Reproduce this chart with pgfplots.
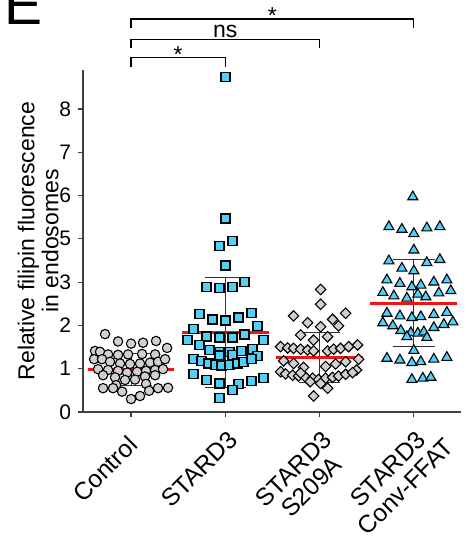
\documentclass[border=0pt]{standalone}
\usepackage{pgfplots}
\pgfplotsset{compat=1.18}
\usepackage{fontspec}
\setmainfont{Liberation Sans}
\definecolor{cy}{RGB}{80,208,248}
\definecolor{gr}{RGB}{208,208,208}
\definecolor{rd}{RGB}{240,20,20}
\newcommand{\twol}[2]{\setlength{\tabcolsep}{0pt}\begin{tabular}[t]{c}#1\\#2\end{tabular}}
\begin{document}
\begin{tikzpicture}
\path[use as bounding box] (-41.5pt,-65pt) rectangle (194pt,206pt);
\begin{axis}[
  name=ax, at={(0,0)}, anchor=south west,
  scale only axis, width=189pt, height=171pt,
  xmin=-0.51, xmax=3.5, ymin=0, ymax=7.9,
  axis x line*=bottom, axis y line*=left,
  axis line style={line width=0.6pt, black!75},
  xtick={0,1,2,3},
  xticklabels={Control, STARD3, {\twol{STARD3}{S209A}}, {\twol{STARD3}{Conv-FFAT}}},
  ytick={0,1,2,3,4,5,6,7}, yticklabels={0,1,2,3,5,6,7,8},
  tick align=outside, major tick length=2.5pt,
  tick style={line width=0.6pt, black!75},
  /pgf/number format/assume math mode=true,
  yticklabel style={font=\fontsize{10.5}{12}\selectfont},
  xticklabel style={font=\fontsize{12.3}{12.6}\selectfont, anchor=base, xshift=-10pt, yshift=-29pt, rotate=45},
  ylabel={Relative filipin fluorescence\\in endosomes},
  ylabel style={align=center, font=\fontsize{11.5}{12}\selectfont},
  ylabel shift=-6.5pt,
  clip=false,
]
% Control
\addplot[only marks, mark=*, mark size=2.35pt, mark options={fill=gr, draw=black, line width=0.55pt}] coordinates {
(-0.276,1.80) (-0.138,1.63) (0,1.58) (0.127,1.60) (0.265,1.64) (0.382,1.48)
(-0.382,1.41) (-0.329,1.39) (-0.244,1.33) (-0.138,1.32) (-0.032,1.33) (0.117,1.34) (0.255,1.33)
(-0.392,1.22) (-0.308,1.22) (-0.223,1.16) (-0.117,1.12) (-0.011,1.11) (0.095,1.12) (0.201,1.14) (0.286,1.16) (0.361,1.22)
(-0.350,0.99) (-0.244,0.97) (-0.138,0.95) (-0.042,0.91) (0.064,0.93) (0.159,0.95) (0.255,0.97) (0.339,0.99)
(-0.297,0.85) (-0.170,0.80) (-0.064,0.74) (0.042,0.75) (0.148,0.82) (0.255,0.85)
(-0.159,0.62) (0.159,0.65)
(-0.297,0.55) (-0.191,0.55) (-0.095,0.47) (0,0.30) (0.095,0.37) (0.191,0.49) (0.286,0.55) (0.392,0.56)
};
% STARD3
\addplot[only marks, mark=square*, mark size=2.25pt, mark options={fill=cy, draw=black, line width=0.75pt}] coordinates {
(1,7.74) (1,4.47) (0.936,3.84) (1.074,3.95) (1,3.39)
(0.799,2.89) (0.936,2.86) (1.074,2.89) (1.201,3.00)
(0.724,2.26) (0.862,2.14) (1,2.11) (1.138,2.18) (1.276,2.29)
(0.661,1.92) (1.339,1.99)
(0.597,1.66) (0.799,1.74) (0.936,1.72) (1.074,1.72) (1.201,1.79) (1.403,1.66)
(0.724,1.55) (0.830,1.43) (0.936,1.39) (1.042,1.39) (1.170,1.41) (1.286,1.45)
(0.936,1.30) (1.074,1.32) (1.339,1.29)
(0.661,1.22) (0.745,1.18) (0.820,1.12) (0.894,1.09) (0.958,1.07) (1.042,1.09) (1.127,1.12) (1.191,1.16) (1.276,1.22)
(0.661,0.88) (0.799,0.74) (0.936,0.66) (1.138,0.65) (1.276,0.72) (1.403,0.78)
(1.074,0.51) (0.936,0.32)
};
% S209A
\addplot[only marks, mark=square*, mark size=1.85pt, mark options={rotate=45, fill=gr, draw=black, line width=0.55pt}] coordinates {
(2.011,2.83) (2.011,2.49) (1.724,2.22) (2.276,2.28) (1.873,2.06) (2.138,2.14) (2.201,1.99) (2.011,1.97)
(1.799,1.78) (1.936,1.66) (2.085,1.74)
(1.586,1.51) (1.661,1.48) (1.724,1.47) (1.799,1.45) (1.873,1.43) (1.936,1.41) (2.085,1.41) (2.148,1.45) (2.223,1.47) (2.308,1.51) (2.403,1.55)
(2.414,1.22) (1.618,1.18) (1.724,1.12) (1.830,1.03) (2.064,1.05) (2.170,1.11) (2.276,1.16) (2.392,0.97)
(1.586,0.93) (1.639,0.88) (1.714,0.85) (1.777,0.83) (1.852,0.80) (1.926,0.78) (1.989,0.75) (2.064,0.78) (2.138,0.80) (2.201,0.83) (2.276,0.87) (2.350,0.91)
(1.799,0.90) (1.900,0.70)
(2.011,0.66) (2.085,0.55) (1.936,0.37)
};
% Conv-FFAT
\addplot[only marks, mark=triangle*, mark size=2.9pt, mark options={fill=cy, draw=black, line width=0.55pt}] coordinates {
(2.989,4.97)
(2.735,4.28) (2.873,4.22) (3,4.12) (3.138,4.25) (3.276,4.28)
(3,3.74)
(2.735,3.49) (2.873,3.32) (3,3.26) (3.138,3.45) (3.276,3.52)
(2.714,3.05) (2.852,2.97) (2.979,2.89) (3.074,2.93) (3.212,3.00) (3.350,3.05)
(2.671,2.76) (2.788,2.68) (2.926,2.63) (3.042,2.72) (3.127,2.66) (3.265,2.75) (3.392,2.80)
(2.714,2.28) (2.852,2.22) (2.979,2.18) (3.074,2.20) (3.212,2.25) (3.350,2.30)
(2.671,2.06) (2.777,1.99) (2.862,1.88) (2.968,1.83) (3.042,1.82) (3.106,1.85) (3.212,1.95) (3.318,2.02) (3.414,2.08)
(2.926,1.74) (3.138,1.72)
(3,1.42)
(2.714,1.24) (2.852,1.20) (2.979,1.14) (3.074,1.16) (3.212,1.22) (3.350,1.26)
(2.979,0.75) (3.095,0.78) (3.180,0.80)
};
% SD bars
\addplot[black!80, line width=0.55pt] coordinates {(0,0.62) (0,1.36)};
\addplot[black!80, line width=0.55pt] coordinates {(-0.22,0.62) (0.22,0.62)};
\addplot[black!80, line width=0.55pt] coordinates {(-0.22,1.36) (0.22,1.36)};
\addplot[black!80, line width=0.55pt] coordinates {(1,0.57) (1,3.10)};
\addplot[black!80, line width=0.55pt] coordinates {(0.78,0.57) (1.22,0.57)};
\addplot[black!80, line width=0.55pt] coordinates {(0.78,3.10) (1.22,3.10)};
\addplot[black!80, line width=0.55pt] coordinates {(2,0.69) (2,1.83)};
\addplot[black!80, line width=0.55pt] coordinates {(1.78,0.69) (2.22,0.69)};
\addplot[black!80, line width=0.55pt] coordinates {(1.78,1.83) (2.22,1.83)};
\addplot[black!80, line width=0.55pt] coordinates {(3,1.51) (3,3.53)};
\addplot[black!80, line width=0.55pt] coordinates {(2.78,1.51) (3.22,1.51)};
\addplot[black!80, line width=0.55pt] coordinates {(2.78,3.53) (3.22,3.53)};
% means
\addplot[rd, line width=1.5pt] coordinates {(-0.46,0.99) (0.46,0.99)};
\addplot[rd, line width=1.5pt] coordinates {(0.54,1.84) (1.46,1.84)};
\addplot[rd, line width=1.5pt] coordinates {(1.54,1.26) (2.46,1.26)};
\addplot[rd, line width=1.5pt] coordinates {(2.54,2.51) (3.46,2.51)};
% significance brackets
\draw[line width=0.6pt] (axis cs:0,8.87) -- (axis cs:0,9.08) -- (axis cs:3,9.08) -- (axis cs:3,8.87);
\draw[line width=0.6pt] (axis cs:0,8.41) -- (axis cs:0,8.61) -- (axis cs:2,8.61) -- (axis cs:2,8.41);
\draw[line width=0.6pt] (axis cs:0,7.97) -- (axis cs:0,8.18) -- (axis cs:1,8.18) -- (axis cs:1,7.97);
\node[anchor=base, inner sep=0, font=\fontsize{11.5}{12}\selectfont] at (axis cs:1.5,8.98) {*};
\node[anchor=base, inner sep=0, font=\fontsize{11.5}{12}\selectfont] at (axis cs:1,8.66) {ns};
\node[anchor=base, inner sep=0, font=\fontsize{11.5}{12}\selectfont] at (axis cs:0.5,8.08) {*};
\end{axis}
\node[anchor=base west, inner sep=0, font=\fontsize{28.5}{30}\selectfont] at (-39.25pt,193.5pt) {E};
\end{tikzpicture}
\end{document}
